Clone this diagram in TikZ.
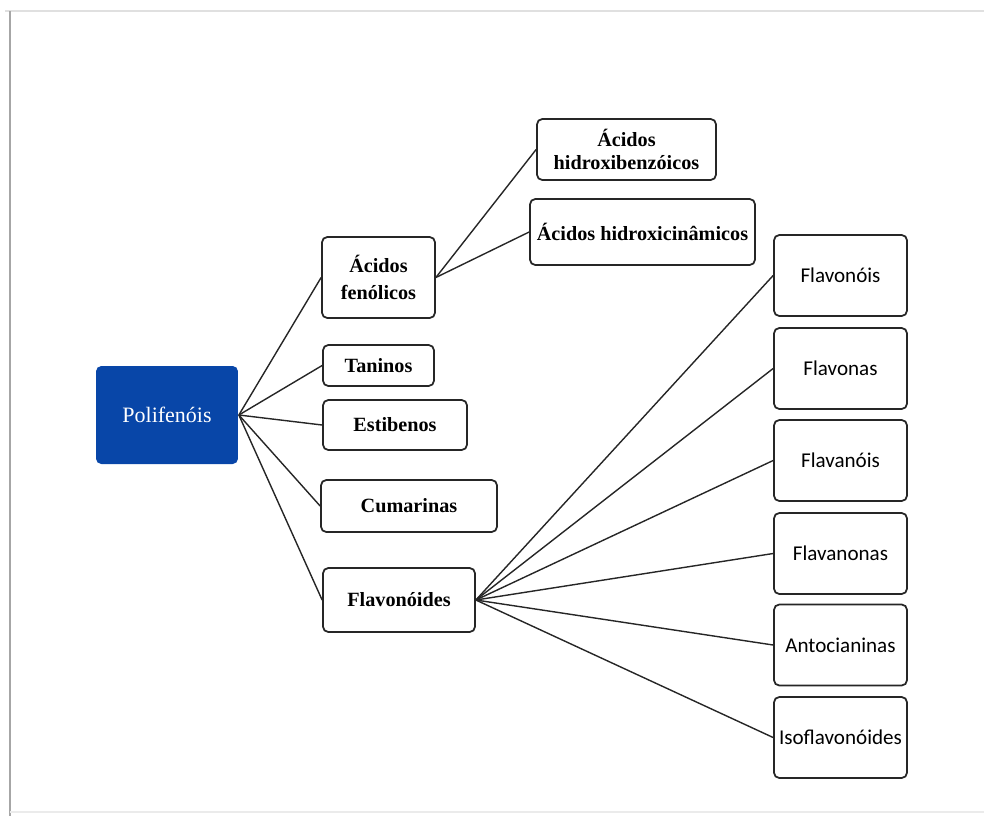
\documentclass[tikz,border=0pt]{standalone}
\usepackage{fontspec}
\setmainfont{Liberation Serif}
\newfontfamily\calibri{Carlito}
\definecolor{polyblue}{RGB}{8,70,168}

\tikzset{
  box/.style={draw=black!85, line width=1pt, rounded corners=3pt, fill=white,
    inner sep=0pt, align=center, font=\bfseries\fontsize{11.5}{15}\selectfont},
  rootbox/.style={box, draw=none, fill=polyblue, text=white,
    font=\fontsize{12.5}{15}\selectfont},
  leafbox/.style={box, minimum width=2.66cm, minimum height=1.62cm,
    font=\calibri\fontsize{12}{14}\selectfont},
  link/.style={black!85, line width=0.8pt}
}

\begin{document}
\begin{tikzpicture}[x=0.02cm, y=-0.02cm]
    \useasboundingbox (0,0) rectangle (984,816);

    % Page frame
    \draw[black!12, line width=1.2pt] (5,11) -- (984,11);
    \draw[black!35, line width=1.6pt] (10,11) -- (10,816);
    \draw[black!8, line width=0.8pt] (10,812) -- (984,812);

    % Root
    \node[rootbox, minimum width=2.84cm, minimum height=1.96cm] (poli) at (167,415) {Polifenóis};

    % Main classes
    \node[box, minimum width=2.26cm, minimum height=1.62cm] (acf) at (378.5,277.5) {Ácidos\\fenólicos};
    \node[box, minimum width=2.22cm, minimum height=0.82cm] (tan) at (378.5,365.5) {Taninos};
    \node[box, minimum width=2.88cm, minimum height=1.00cm] (est) at (395,425) {Estibenos};
    \node[box, minimum width=3.52cm, minimum height=1.04cm] (cum) at (409,506) {Cumarinas};
    \node[box, minimum width=3.04cm, minimum height=1.28cm] (flv) at (399,600) {Flavonóides};

    % Phenolic acids
    \node[box, minimum width=3.58cm, minimum height=1.22cm, font=\bfseries\fontsize{11.5}{13.5}\selectfont] (hbz) at (626.5,149.5) {Ácidos\\hidroxibenzóicos};
    \node[box, minimum width=4.50cm, minimum height=1.32cm] (hcn) at (642.5,232) {Ácidos hidroxicinâmicos};

    % Flavonoids
    \foreach \name/\y/\label in {fnol/275.5/Flavonóis, fnas/368.5/Flavonas,
        fanol/460.5/Flavanóis, fanon/553.5/Flavanonas,
        anto/645/Antocianinas, iso/737.5/Isoflavonóides} {
        \node[leafbox] (\name) at (840.5,\y) {\label};
    }

    % Links
    \foreach \target in {acf, tan, est, cum, flv} {
        \draw[link] (poli.east) -- (\target.west);
    }
    \foreach \target in {hbz, hcn} {
        \draw[link] (acf.east) -- (\target.west);
    }
    \foreach \target in {fnol, fnas, fanol, fanon, anto, iso} {
        \draw[link] (flv.east) -- (\target.west);
    }
\end{tikzpicture}
\end{document}
